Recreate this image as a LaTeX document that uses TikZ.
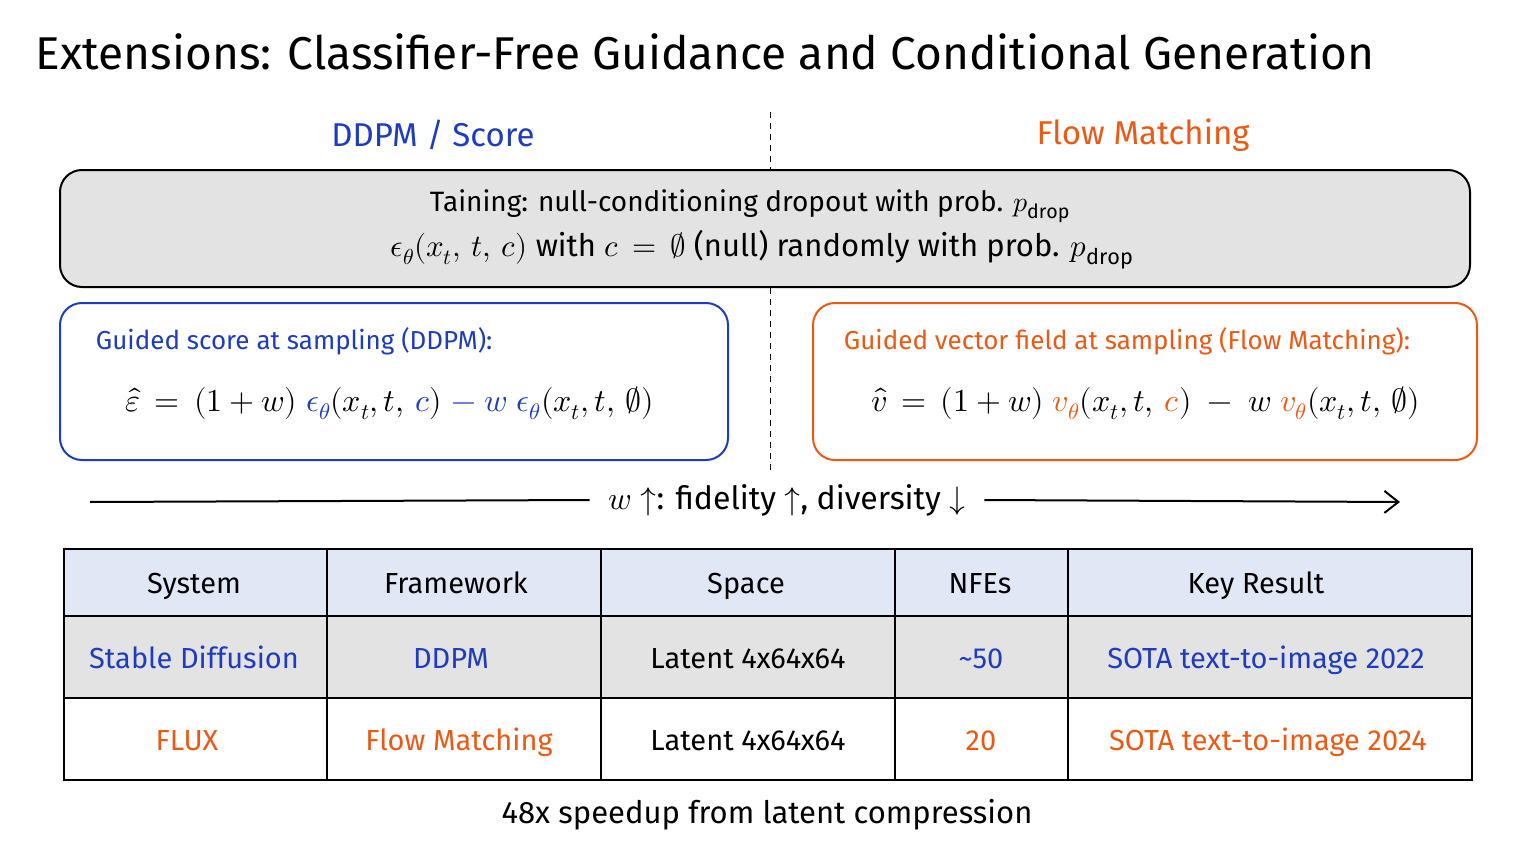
\documentclass[tikz,border=0pt]{standalone}
\usepackage{fontspec}
\usepackage{unicode-math}
\usetikzlibrary{arrows.meta}
\setmainfont{Fira Sans}
\setmathfont{Latin Modern Math}
\definecolor{ddpmblue}{RGB}{30,60,190}
\definecolor{floworange}{RGB}{235,90,20}
\definecolor{headfill}{RGB}{225,232,245}
\tikzset{
  sketch/.style={line width=2pt, rounded corners=22pt},
  cell/.style={inner sep=0.75pt, font=\fontsize{29}{33}\selectfont},
}
\begin{document}
\begin{tikzpicture}[x=1pt,y=1pt,yscale=-1,xscale=1]
	\useasboundingbox (0,0) rectangle (1536,864);
	
	% Title
	\node[anchor=west,inner sep=0.75pt,font=\fontsize{46}{52}\selectfont] (title) at (35,52) {Extensions: Classifier-Free Guidance and Conditional Generation};
	% Column heads
	\node[inner sep=0.75pt,font=\fontsize{33}{38}\selectfont,color=ddpmblue] (ddpm) at (433,135) {DDPM / Score};
	\node[inner sep=0.75pt,font=\fontsize{33}{38}\selectfont,color=floworange] (flow) at (1143,135) {Flow Matching};
	% Divider
	\coordinate (divtop) at (770,112);
	\coordinate (divbot) at (770,470);
	\draw[dashed,line width=1pt,dash pattern=on 6pt off 5pt] (divtop) -- (divbot);
	
	% Training box
	\draw[sketch,fill=black!11] (60,170) rectangle (1470,287);
	\node[inner sep=0.75pt,font=\fontsize{28}{32}\selectfont] (train) at (750,206) {Taining: null-conditioning dropout with prob. $p_{\mathrm{drop}}$};
	\node[inner sep=0.75pt,font=\fontsize{31}{35}\selectfont] (trainEq) at (762,250) {$\epsilon_\theta(x_t,\,t,\,c)$ with $c\,=\,\varnothing$ (null) randomly with prob. $p_{\mathrm{drop}}$};
	
	% Guided score box
	\draw[sketch,draw=ddpmblue,fill=white] (60,303) rectangle (728,460);
	\node[anchor=west,inner sep=0.75pt,font=\fontsize{26}{30}\selectfont,color=ddpmblue] (scoreT) at (95,341) {Guided score at sampling (DDPM):};
	\node[inner sep=0.75pt,font=\fontsize{32}{36}\selectfont] (scoreEq) at (390,403) {$\hat\varepsilon\,=\,(1+w)\;{\color{ddpmblue}\epsilon_\theta}(x_t,t,\,{\color{ddpmblue}c})\;{\color{ddpmblue}-\;w\;\epsilon_\theta}(x_t,t,\,\varnothing)$};
	
	% Guided vector field box
	\draw[sketch,draw=floworange,fill=white] (813,303) rectangle (1477,460);
	\node[anchor=west,inner sep=0.75pt,font=\fontsize{26}{30}\selectfont,color=floworange] (fieldT) at (843,341) {Guided vector field at sampling (Flow Matching):};
	\node[inner sep=0.75pt,font=\fontsize{32}{36}\selectfont] (fieldEq) at (1146,403) {$\hat v\,=\,(1+w)\;{\color{floworange}v_\theta}(x_t,t,\,{\color{floworange}c})\;-\;w\;{\color{floworange}v_\theta}(x_t,t,\,\varnothing)$};
	
	% Guidance scale arrow
	\coordinate (arrL) at (90,502);
	\coordinate (arrR) at (1400,502);
	\node[inner sep=0.75pt,fill=white,font=\fontsize{32}{36}\selectfont] (scale) at (787,500) {$w\uparrow$: fidelity $\uparrow$, diversity $\downarrow$};
	\draw[line width=2pt] (arrL) -- ([xshift=-18pt]scale.west);
	\draw[line width=2pt,-{Straight Barb[length=14pt,width=22pt]}] ([xshift=18pt]scale.east) -- (arrR);
	
	% Table
	\fill[headfill] (64,549) rectangle (1472,616);
	\fill[black!11] (64,616) rectangle (1472,698);
	\draw[line width=2pt] (64,549) rectangle (1472,780);
	\draw[line width=1.5pt] (64,616) -- (1472,616);
	\draw[line width=1.5pt] (64,698) -- (1472,698);
	\foreach \x in {327,601,895,1068}
		\draw[line width=1.5pt] (\x,549) -- (\x,780);
	
	% Header row
	\node[cell,anchor=base] (hSys) at (194,593) {System};
	\node[cell,anchor=base] (hFw) at (456,593) {Framework};
	\node[cell,anchor=base] (hSp) at (746,593) {Space};
	\node[cell,anchor=base] (hNfe) at (980,593) {NFEs};
	\node[cell,anchor=base] (hKey) at (1256,593) {Key Result};
	% Row 1
	\node[cell,anchor=base,color=ddpmblue] (sdSys) at (194,668) {Stable Diffusion};
	\node[cell,anchor=base,color=ddpmblue] (sdFw) at (451,668) {DDPM};
	\node[cell,anchor=base] (sdSp) at (748,668) {Latent 4x64x64};
	\node[cell,anchor=base,color=ddpmblue] (sdNfe) at (981,668) {\textasciitilde50};
	\node[cell,anchor=base,color=ddpmblue] (sdKey) at (1266,668) {SOTA text-to-image 2022};
	% Row 2
	\node[cell,anchor=base,color=floworange] (fxSys) at (187,750) {FLUX};
	\node[cell,anchor=base,color=floworange] (fxFw) at (459,750) {Flow Matching};
	\node[cell,anchor=base] (fxSp) at (748,750) {Latent 4x64x64};
	\node[cell,anchor=base,color=floworange] (fxNfe) at (981,750) {20};
	\node[cell,anchor=base,color=floworange] (fxKey) at (1268,750) {SOTA text-to-image 2024};
	
	% Footnote
	\node[inner sep=0.75pt,font=\fontsize{31}{35}\selectfont] (note) at (767,815) {48x speedup from latent compression};
\end{tikzpicture}
\end{document}
